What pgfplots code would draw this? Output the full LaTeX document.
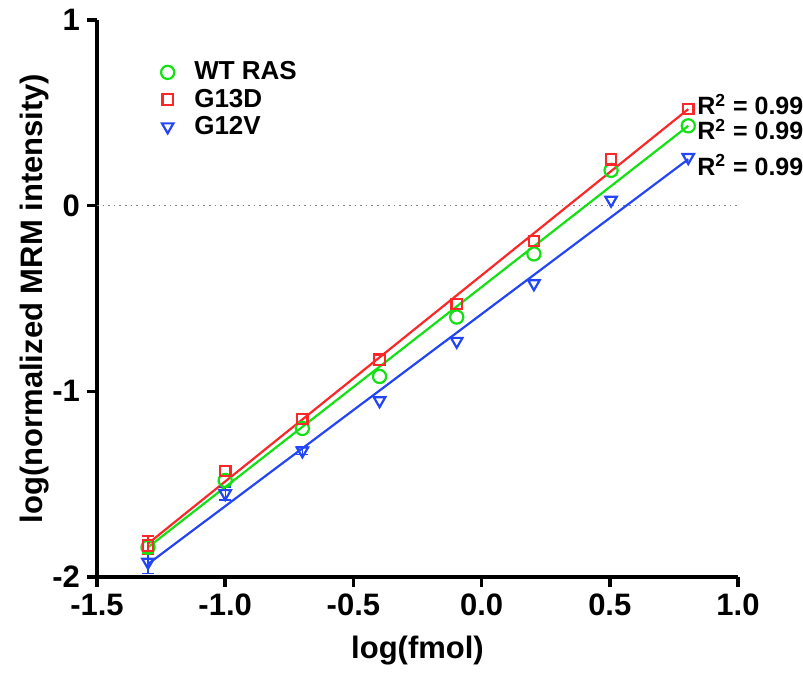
\documentclass[border=0pt]{standalone}
\usepackage{fontspec}
\setmainfont{Liberation Sans}
\usepackage{pgfplots}
\pgfplotsset{compat=1.18}
\definecolor{wtgreen}{RGB}{20,225,20}
\definecolor{g13red}{RGB}{250,40,40}
\definecolor{g12blue}{RGB}{35,70,245}

\begin{document}
\begin{tikzpicture}
\begin{axis}[
  scale only axis, width=320.5pt, height=278.5pt,
  xmin=-1.5, xmax=1.0, ymin=-2, ymax=1,
  axis lines=left, axis line style={line width=2pt, -},
  xtick={-1.5,-1.0,...,1.0}, ytick={-2,-1,0,1},
  tick align=outside, major tick length=5pt,
  tick style={line width=1.8pt, black},
  x tick label style={/pgf/number format/.cd, fixed, fixed zerofill, precision=1},
  /pgf/number format/assume math mode=true,
  ticklabel style={font=\fontsize{15.5}{18}\selectfont\bfseries},
  xlabel={log(fmol)}, ylabel={log(normalized MRM intensity)},
  label style={font=\fontsize{15.5}{18}\selectfont\bfseries},
  xlabel style={yshift=-3pt}, ylabel style={yshift=-5pt},
  clip=false,
  legend style={draw=none, fill=none, at={(rel axis cs:0.09,0.94)}, anchor=north west,
    font=\fontsize{13}{15}\selectfont\bfseries, row sep=-1pt, column sep=8pt},
  legend cell align=left,
]
\addplot[gray, dotted, line width=0.8pt, forget plot] coordinates {(-1.5,0) (1.0,0)};

% fitted lines
\addplot[g13red, line width=1.1pt, forget plot] coordinates {(-1.301,-1.82) (0.806,0.52)};
\addplot[wtgreen, line width=1.1pt, forget plot] coordinates {(-1.301,-1.84) (0.806,0.43)};
\addplot[g12blue, line width=1.1pt, forget plot] coordinates {(-1.301,-1.93) (0.806,0.25)};

% error bars of the low points (low end, high end)
\pgfplotsset{ebar/.style={forget plot, line width=0.7pt, mark=-, mark size=3pt, mark options={line width=0.7pt}}}
\addplot[ebar, wtgreen] coordinates {(-1.301,-1.87) (-1.301,-1.81)};
\addplot[ebar, g13red] coordinates {(-1.301,-1.88) (-1.301,-1.78)};
\addplot[ebar, g12blue] coordinates {(-1.301,-1.98) (-1.301,-1.86)};
\addplot[ebar, g12blue] coordinates {(-1.0,-1.585) (-1.0,-1.515)};
\addplot[ebar, g12blue] coordinates {(-0.699,-1.34) (-0.699,-1.30)};

\addplot[only marks, wtgreen, mark=o, mark size=3.3pt, mark options={line width=1.1pt}] coordinates {
  (-1.301,-1.84) (-1.0,-1.48) (-0.699,-1.20) (-0.398,-0.92)
  (-0.097,-0.60) (0.204,-0.26) (0.505,0.19) (0.806,0.43)
};
\addlegendentry{WT RAS}
\addplot[only marks, g13red, mark=square, mark size=2.6pt, mark options={line width=1.1pt}] coordinates {
  (-1.301,-1.83) (-1.0,-1.43) (-0.699,-1.15) (-0.398,-0.83)
  (-0.097,-0.53) (0.204,-0.19) (0.505,0.25) (0.806,0.52)
};
\addlegendentry{G13D}
\addplot[only marks, g12blue, mark=triangle, mark size=3.3pt, mark options={rotate=180, line width=1.1pt}] coordinates {
  (-1.301,-1.92) (-1.0,-1.55) (-0.699,-1.32) (-0.398,-1.05)
  (-0.097,-0.73) (0.204,-0.42) (0.505,0.03) (0.806,0.26)
};
\addlegendentry{G12V}

\node[anchor=west, font=\fontsize{12.5}{14}\selectfont\bfseries, inner sep=0pt] at (axis cs:0.84,0.545) {R\textsuperscript{2} = 0.99};
\node[anchor=west, font=\fontsize{12.5}{14}\selectfont\bfseries, inner sep=0pt] at (axis cs:0.84,0.41) {R\textsuperscript{2} = 0.99};
\node[anchor=west, font=\fontsize{12.5}{14}\selectfont\bfseries, inner sep=0pt] at (axis cs:0.84,0.22) {R\textsuperscript{2} = 0.99};
\end{axis}
\pgfresetboundingbox
\path ([xshift=-48.5pt,yshift=-53.5pt]current axis.south west) rectangle ([xshift=32.5pt,yshift=10pt]current axis.north east);
\end{tikzpicture}
\end{document}
